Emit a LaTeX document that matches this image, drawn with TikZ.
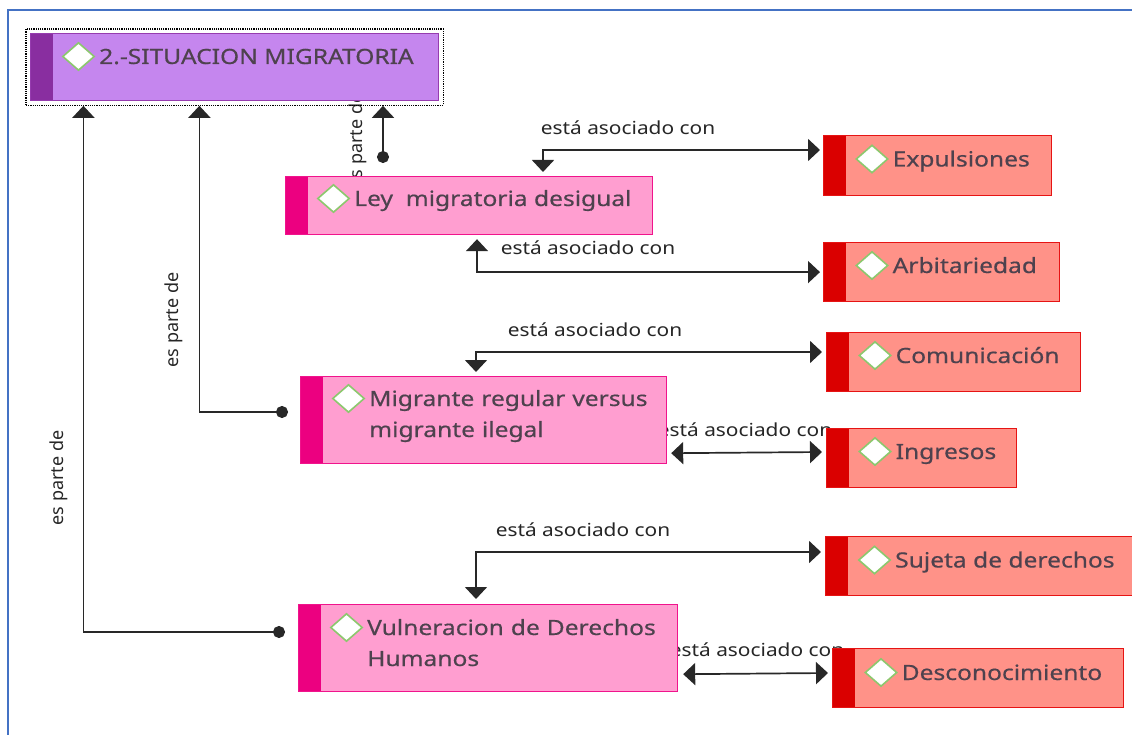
\documentclass[tikz,border=0pt]{standalone}
\usepackage{fontspec}
\usetikzlibrary{arrows.meta,calc,fit,shapes.geometric}
\newfontfamily\boxfont[FakeStretch=1.17,FakeBold=0.5]{Noto Sans}
\newfontfamily\lblfont[FakeStretch=1.16]{Noto Sans}
\newfontfamily\vlblfont{Noto Sans}

\definecolor{rootfill}{RGB}{197,134,238}
\definecolor{rootbar}{RGB}{137,46,160}
\definecolor{rootline}{RGB}{150,60,175}
\definecolor{pinkfill}{RGB}{255,158,208}
\definecolor{pinkbar}{RGB}{236,0,128}
\definecolor{pinkline}{RGB}{240,20,140}
\definecolor{redfill}{RGB}{255,146,136}
\definecolor{redbar}{RGB}{218,0,0}
\definecolor{redline}{RGB}{230,20,20}
\definecolor{icoline}{RGB}{140,200,110}
\definecolor{txtc}{RGB}{78,66,78}
\definecolor{lnc}{RGB}{40,40,40}
\definecolor{framec}{RGB}{68,114,196}

\tikzset{
	cbox/.style n args={3}{rectangle, anchor=north west, inner sep=0pt, fill=#1, draw=#3, line width=1.2pt,
		path picture={\fill[#2] (path picture bounding box.north west) rectangle ([xshift=22pt]path picture bounding box.south west);}},
	rootbox/.style={cbox={rootfill}{rootbar}{rootline}},
	pinkbox/.style={cbox={pinkfill}{pinkbar}{pinkline}},
	redbox/.style={cbox={redfill}{redbar}{redline}},
	ico/.style={diamond, draw=icoline, fill=white, line width=1.6pt, minimum width=32pt, minimum height=28pt, inner sep=0pt},
	ctext/.style={anchor=base west, inner sep=0pt, text=txtc, font=\boxfont\fontsize{21}{31}\selectfont, align=left},
	lbl/.style={inner sep=0pt, text=black!85, font=\lblfont\fontsize{18}{20}\selectfont},
	vlbl/.style={inner sep=0pt, text=black!85, font=\vlblfont\fontsize{18}{20}\selectfont, rotate=90},
	selbox/.style={draw=black, densely dotted, line width=1.2pt, inner sep=4pt},
	espa/.style={draw=lnc, line width=1.7pt, {Circle[length=12pt]}-{Triangle[width=22pt,length=12pt]}},
	asoc/.style={draw=lnc, line width=1.7pt, {Triangle[width=22pt,length=12pt]}-{Triangle[width=22pt,length=12pt]}},
}

\begin{document}
\begin{tikzpicture}[x=1pt,y=-1pt]
	\useasboundingbox (0,0) rectangle (1132,735);
	\draw[framec, line width=2.5pt] (8,735) -- (8,10) -- (1132,10);

	% etiquetas (debajo de las cajas)
	\node[lbl] (le-l) at (628,128) {está asociado con};
	\node[lbl] (la-l) at (588,248) {está asociado con};
	\node[lbl] (mc-l) at (595,330) {está asociado con};
	\node[lbl] (mi-l) at (745,430) {está asociado con};
	\node[lbl] (vs-l) at (583,530) {está asociado con};
	\node[lbl] (vd-l) at (757,650) {está asociado con};
	\node[vlbl] (lr-l) at (358,141) {es parte de};
	\node[vlbl] (mr-l) at (174,320) {es parte de};
	\node[vlbl] (vr-l) at (59,478) {es parte de};

	% cajas
	\node[rootbox, minimum width=408pt, minimum height=67pt] (root) at (30,33) {};
	\node[ico] (root-i) at ($(root.north west)+(48.5,23.5)$) {};
	\node[ctext] (root-t) at ($(root-i.center)+(20.5,7.5)$) {2.-SITUACION MIGRATORIA};
	\node[selbox, fit=(root)] (sel) {};

	\node[pinkbox, minimum width=367pt, minimum height=58pt] (ley) at (285,176) {};
	\node[ico] (ley-i) at ($(ley.north west)+(48.5,22.5)$) {};
	\node[ctext] (ley-t) at ($(ley-i.center)+(20.5,7.5)$) {Ley\ \ migratoria desigual};

	\node[pinkbox, minimum width=366pt, minimum height=87pt] (mig) at (300,376) {};
	\node[ico] (mig-i) at ($(mig.north west)+(48.5,22.5)$) {};
	\node[ctext, text width=295pt] (mig-t) at ($(mig-i.center)+(20.5,7.5)$) {Migrante regular versus\\migrante ilegal};

	\node[pinkbox, minimum width=379pt, minimum height=87pt] (vul) at (298,604) {};
	\node[ico] (vul-i) at ($(vul.north west)+(48.5,23.5)$) {};
	\node[ctext, text width=305pt] (vul-t) at ($(vul-i.center)+(20.5,7.5)$) {Vulneracion de Derechos\\Humanos};

	\node[redbox, minimum width=228pt, minimum height=60pt] (expul) at (823,135) {};
	\node[ico] (expul-i) at ($(expul.north west)+(49,24)$) {};
	\node[ctext] (expul-t) at ($(expul-i.center)+(20.5,7.5)$) {Expulsiones};

	\node[redbox, minimum width=236pt, minimum height=59pt] (arbit) at (823,242) {};
	\node[ico] (arbit-i) at ($(arbit.north west)+(49,23.5)$) {};
	\node[ctext] (arbit-t) at ($(arbit-i.center)+(20.5,7.5)$) {Arbitariedad};

	\node[redbox, minimum width=254pt, minimum height=59pt] (comun) at (826,332) {};
	\node[ico] (comun-i) at ($(comun.north west)+(49,23.5)$) {};
	\node[ctext] (comun-t) at ($(comun-i.center)+(20.5,7.5)$) {Comunicación};

	\node[redbox, minimum width=190pt, minimum height=59pt] (ingr) at (826,428) {};
	\node[ico] (ingr-i) at ($(ingr.north west)+(49,23.5)$) {};
	\node[ctext] (ingr-t) at ($(ingr-i.center)+(20.5,7.5)$) {Ingresos};

	\node[redbox, minimum width=320pt, minimum height=59pt] (suj) at (825,536) {};
	\node[ico] (suj-i) at ($(suj.north west)+(49.5,24)$) {};
	\node[ctext] (suj-t) at ($(suj-i.center)+(20.5,7.5)$) {Sujeta de derechos};

	\node[redbox, minimum width=291pt, minimum height=59pt] (desc) at (832,648) {};
	\node[ico] (desc-i) at ($(desc.north west)+(49,24.5)$) {};
	\node[ctext] (desc-t) at ($(desc-i.center)+(20.5,7.5)$) {Desconocimiento};

	% es parte de
	\coordinate (ley-p) at ($(ley.north west)+(98,-13)$);
	\coordinate (mig-p) at ($(mig.north west)+(-12,36)$);
	\coordinate (vul-p) at ($(vul.north west)+(-13,28)$);
	\draw[espa] (ley-p) -- (ley-p |- sel.south);
	\draw[espa] (mig-p) -| ($(sel.south west)+(174,0)$);
	\draw[espa] (vul-p) -| ($(sel.south west)+(58,0)$);

	% está asociado con
	\draw[asoc] ($(ley.north west)+(258,-4)$) |- ($(expul.north west)+(-3,15)$);
	\draw[asoc] ($(ley.south west)+(192,4)$) |- ($(arbit.west)+(-3,0)$);
	\draw[asoc] ($(mig.north west)+(176,-4)$) |- ($(comun.north west)+(-4,20)$);
	\draw[asoc] ($(mig.south east)+(4,-11)$) -- ($(ingr.north west)+(-4,24)$);
	\draw[asoc] ($(vul.north west)+(178,-5)$) |- ($(suj.north west)+(-4,16)$);
	\draw[asoc] ($(vul.south east)+(5,-18)$) -- ($(desc.north west)+(-4,25)$);
\end{tikzpicture}
\end{document}
